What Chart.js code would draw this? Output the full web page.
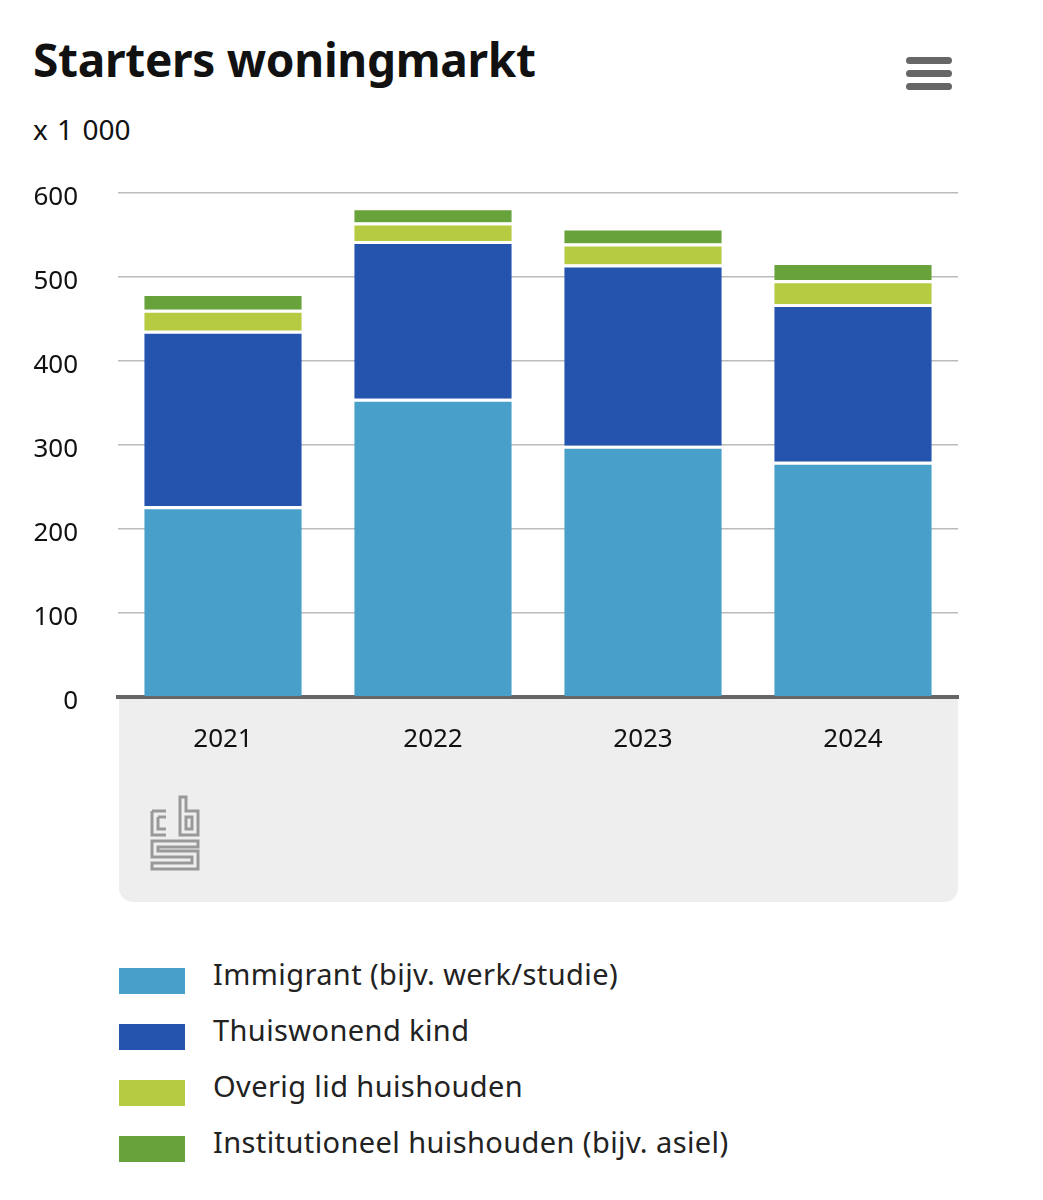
<!DOCTYPE html>
<html>
<head>
<meta charset="utf-8">
<script src="https://cdn.jsdelivr.net/npm/chart.js@4/dist/chart.umd.min.js"></script>
<style>
  body { margin: 0; background: #fff; font-family: "Noto Sans", sans-serif; }
  #page { position: relative; width: 1043px; height: 1200px; overflow: hidden; }
  #title { position: absolute; left: 33px; top: 28px; font-size: 46px; font-weight: bold; color: #111; letter-spacing: -0.3px; }
  #unit { position: absolute; left: 33px; top: 110px; font-size: 28px; color: #111; word-spacing: 2px; }
  .bar { position: absolute; left: 906px; width: 46px; height: 7px; border-radius: 4px; background: #666; }
  #panel { position: absolute; left: 119px; top: 697px; width: 839px; height: 205px; background: #eeeeee; border-radius: 0 0 14px 14px; }
  #logo { position: absolute; left: 150px; top: 795px; }
  #wrap { position: absolute; left: 0; top: 0; width: 1043px; height: 780px; }
  #legend { position: absolute; left: 119px; top: 962px; }
  .item { position: relative; height: 56px; font-size: 29px; color: #222; }
  .box { position: absolute; left: 0; top: 6px; width: 66px; height: 26px; }
  .lbl { position: absolute; left: 94px; top: -8px; white-space: nowrap; letter-spacing: 0.4px; }
</style>
</head>
<body>
<div id="page">
  <div id="title">Starters woningmarkt</div>
  <div id="unit">x 1 000</div>
  <div class="bar" style="top:57px"></div>
  <div class="bar" style="top:70px"></div>
  <div class="bar" style="top:83px"></div>
  <div id="panel"></div>
  <svg id="logo" width="50" height="76" viewBox="0 0 50 76" fill="none" stroke="#999" stroke-width="3">
    <path d="M2 16 H16 M2 16 V40 H16 M8 22 H16 M8 22 V34 H16"/>
    <path d="M30 2 V40 H48 V16 H36 V2 Z M36 22 H42 V34 H36 Z"/>
    <path d="M48 46 H2 V62 H42 V68 H2 V74 H48 V56 H8 V52 H48 Z"/>
  </svg>
  <div id="wrap"><canvas id="chart"></canvas></div>
  <div id="legend"></div>
</div>
<script>
var years = ["2021", "2022", "2023", "2024"];
var immigrant = [227, 355, 299, 280];
var thuiswonend = [209, 188, 216, 188];
var overig = [25, 22, 25, 28];
var institutioneel = [20, 18, 19, 22];
var seriesNames = ["Immigrant (bijv. werk/studie)", "Thuiswonend kind", "Overig lid huishouden", "Institutioneel huishouden (bijv. asiel)"];
var seriesColors = ["#489fca", "#2554ae", "#b6ca42", "#68a23b"];
var yTicks = [0, 100, 200, 300, 400, 500, 600];

var seriesData = [immigrant, thuiswonend, overig, institutioneel];

var legend = document.getElementById("legend");
seriesNames.forEach(function (name, i) {
    var item = document.createElement("div");
    item.className = "item";
    item.innerHTML = '<div class="box" style="background:' + seriesColors[i] + '"></div><div class="lbl">' + name + '</div>';
    legend.appendChild(item);
});

new Chart(document.getElementById("chart"), {
    type: 'bar',
    data: {
        labels: years,
        datasets: seriesData.map(function (d, i) {
            return {
                label: seriesNames[i],
                data: d,
                backgroundColor: seriesColors[i],
                borderColor: '#ffffff',
                borderWidth: { top: 3, bottom: 0, left: 0, right: 0 },
                borderSkipped: false,
                categoryPercentage: 1,
                barPercentage: 0.75
            };
        })
    },
    options: {
        responsive: true,
        maintainAspectRatio: false,
        animation: false,
        layout: { padding: { top: 193, right: 85, left: 0, bottom: 0 } },
        plugins: {
            legend: { display: false },
            tooltip: { enabled: false }
        },
        scales: {
            x: {
                stacked: true,
                grid: { display: false, drawTicks: false },
                border: { color: '#666666', width: 4 },
                ticks: { color: '#111', font: { family: 'Noto Sans', size: 26 }, padding: 27 },
                afterFit: function (axis) { axis.height = 83; }
            },
            y: {
                stacked: true,
                min: 0,
                max: 600,
                afterBuildTicks: function (axis) {
                    axis.ticks = yTicks.map(function (v) { return { value: v }; });
                },
                grid: { color: '#bbbbbb', lineWidth: 1.5, drawTicks: false },
                border: { display: false },
                ticks: { color: '#111', font: { family: 'Noto Sans', size: 26 }, padding: 40, labelOffset: 5 },
                afterFit: function (axis) { axis.width = 118; }
            }
        }
    }
});
</script>
</body>
</html>
